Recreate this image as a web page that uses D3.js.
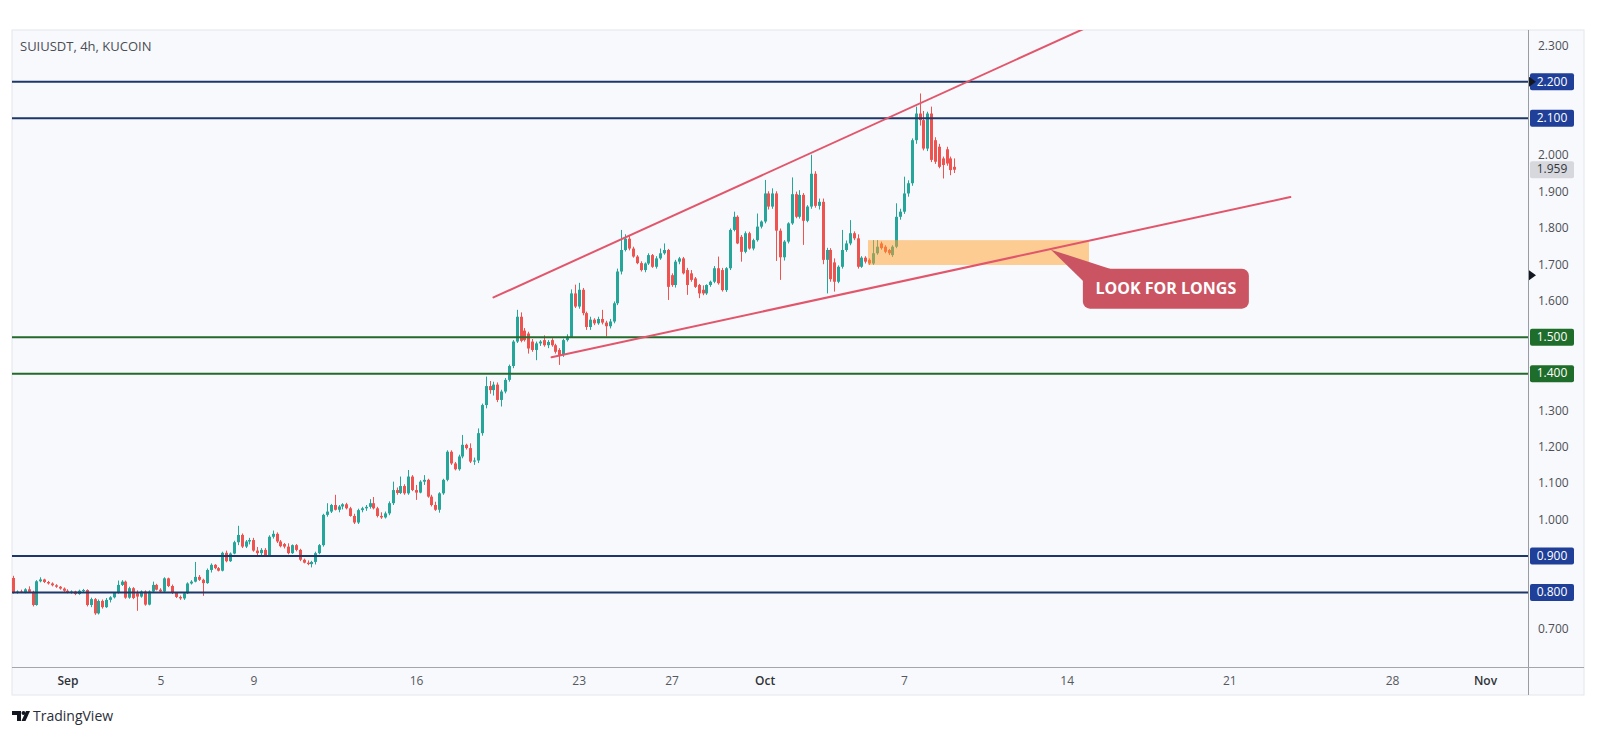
<!DOCTYPE html>
<html><head><meta charset="utf-8">
<script src="https://cdn.jsdelivr.net/npm/d3@7"></script>
<style>
html,body{margin:0;padding:0;background:#fff;}
svg{display:block;font-family:"Open Sans","Liberation Sans",sans-serif;}
</style></head><body>
<svg id="chart" width="1597" height="736"></svg>
<script>
// ---------------- DATA ----------------
const title = "SUIUSDT, 4h, KUCOIN";
const firstBar = "2024-08-29T16:00:00Z";   // open time of first visible 4h bar
const barHours = 4;
// [open, high, low, close] per 4h bar
const ohlc = [
[.840,.846,.797,.800],[.800,.806,.797,.803],[.803,.808,.799,.800],[.800,.812,.798,.809],[.809,.817,.800,.802],
[.802,.805,.762,.766],[.766,.834,.764,.831],[.831,.842,.828,.836],[.836,.838,.826,.829],[.829,.832,.822,.825],
[.825,.828,.817,.820],[.820,.823,.813,.816],[.816,.818,.808,.811],[.811,.814,.802,.805],[.805,.809,.798,.801],
[.801,.806,.797,.803],[.803,.805,.793,.796],[.796,.808,.794,.805],[.805,.810,.800,.807],[.807,.809,.762,.766],
[.766,.786,.760,.782],[.782,.785,.739,.743],[.743,.781,.740,.777],[.777,.781,.756,.760],[.760,.785,.758,.780],
[.780,.790,.773,.787],[.787,.801,.784,.799],[.799,.833,.797,.821],[.821,.834,.818,.830],[.830,.833,.783,.786],
[.786,.816,.783,.812],[.812,.815,.782,.785],[.798,.806,.750,.789],[.789,.806,.786,.803],[.803,.806,.764,.767],
[.767,.806,.765,.803],[.803,.830,.800,.821],[.821,.824,.806,.808],[.808,.812,.800,.803],[.803,.842,.801,.839],
[.839,.841,.815,.818],[.818,.822,.796,.799],[.799,.801,.785,.788],[.788,.792,.780,.784],[.784,.800,.780,.798],
[.798,.828,.796,.825],[.825,.834,.822,.830],[.830,.884,.828,.843],[.843,.848,.832,.835],[.835,.838,.791,.826],
[.826,.866,.824,.862],[.862,.880,.855,.876],[.876,.878,.864,.867],[.867,.870,.858,.860],[.860,.912,.858,.909],
[.909,.915,.883,.886],[.886,.910,.884,.907],[.907,.942,.905,.938],[.938,.983,.930,.958],[.958,.962,.922,.926],
[.926,.944,.922,.940],[.940,.950,.932,.944],[.944,.950,.912,.915],[.915,.925,.903,.908],[.908,.922,.902,.917],
[.917,.922,.899,.901],[.901,.957,.898,.953],[.953,.970,.948,.961],[.961,.965,.936,.940],[.940,.944,.924,.927],
[.933,.936,.921,.926],[.926,.935,.905,.908],[.908,.932,.906,.930],[.930,.933,.913,.917],[.917,.920,.886,.890],
[.890,.893,.880,.882],[.882,.888,.875,.878],[.878,.887,.869,.884],[.884,.912,.877,.908],[.908,.933,.905,.930],
[.930,1.016,.926,1.013],[1.013,1.045,1.008,1.022],[1.022,1.043,1.018,1.040],[1.040,1.068,1.025,1.027],[1.027,1.040,1.020,1.036],
[1.036,1.045,1.028,1.042],[1.042,1.046,1.028,1.031],[1.031,1.035,1.008,1.010],[1.010,1.016,.988,.992],[.992,1.030,.988,1.026],
[1.026,1.035,1.020,1.031],[1.031,1.040,1.024,1.035],[1.035,1.056,1.030,1.045],[1.045,1.062,1.028,1.031],[1.031,1.035,1.006,1.010],
[1.010,1.020,1.002,1.006],[1.006,1.022,1.003,1.017],[1.017,1.050,1.012,1.045],[1.045,1.104,1.040,1.081],[1.081,1.088,1.068,1.073],
[1.073,1.118,1.070,1.092],[1.092,1.097,1.068,1.072],[1.072,1.136,1.068,1.118],[1.118,1.122,1.078,1.081],[1.081,1.095,1.054,1.074],
[1.074,1.108,1.072,1.104],[1.104,1.122,1.095,1.109],[1.109,1.112,1.060,1.063],[1.063,1.068,1.036,1.040],[1.040,1.049,1.024,1.027],
[1.027,1.075,1.019,1.072],[1.072,1.112,1.068,1.109],[1.109,1.190,1.105,1.186],[1.186,1.190,1.150,1.154],[1.154,1.158,1.135,1.138],
[1.138,1.178,1.134,1.173],[1.173,1.232,1.168,1.205],[1.205,1.208,1.192,1.196],[1.196,1.209,1.155,1.159],[1.159,1.170,1.150,1.162],
[1.162,1.250,1.155,1.237],[1.237,1.318,1.230,1.314],[1.314,1.392,1.305,1.366],[1.366,1.380,1.345,1.355],[1.355,1.378,1.340,1.370],
[1.370,1.376,1.322,1.328],[1.328,1.356,1.310,1.351],[1.351,1.388,1.346,1.383],[1.383,1.425,1.378,1.421],[1.421,1.492,1.415,1.488],
[1.488,1.575,1.484,1.556],[1.556,1.568,1.486,1.490],[1.518,1.525,1.488,1.492],[1.510,1.515,1.455,1.469],[1.488,1.495,1.460,1.465],
[1.465,1.488,1.437,1.483],[1.483,1.492,1.476,1.488],[1.492,1.505,1.474,1.478],[1.478,1.492,1.470,1.487],[1.492,1.497,1.474,1.478],
[1.478,1.482,1.455,1.460],[1.465,1.470,1.424,1.451],[1.451,1.496,1.446,1.492],[1.492,1.508,1.488,1.501],[1.501,1.631,1.498,1.620],
[1.620,1.644,1.580,1.584],[1.584,1.649,1.578,1.630],[1.630,1.635,1.560,1.566],[1.566,1.570,1.520,1.528],[1.528,1.556,1.520,1.548],
[1.548,1.552,1.533,1.538],[1.538,1.556,1.534,1.550],[1.550,1.575,1.535,1.540],[1.540,1.545,1.502,1.530],[1.530,1.550,1.524,1.543],
[1.543,1.598,1.538,1.593],[1.593,1.688,1.588,1.680],[1.680,1.794,1.672,1.739],[1.739,1.782,1.735,1.770],[1.770,1.778,1.738,1.743],
[1.743,1.748,1.718,1.721],[1.721,1.725,1.700,1.703],[1.703,1.708,1.680,1.684],[1.684,1.705,1.678,1.702],[1.702,1.730,1.698,1.725],
[1.725,1.728,1.690,1.693],[1.693,1.722,1.688,1.716],[1.716,1.743,1.712,1.730],[1.730,1.757,1.726,1.739],[1.739,1.742,1.602,1.638],
[1.670,1.675,1.638,1.643],[1.643,1.712,1.636,1.707],[1.707,1.720,1.700,1.716],[1.716,1.720,1.672,1.675],[1.684,1.690,1.616,1.643],
[1.675,1.684,1.652,1.657],[1.661,1.665,1.635,1.638],[1.643,1.646,1.607,1.620],[1.630,1.642,1.615,1.620],[1.620,1.645,1.616,1.643],
[1.643,1.655,1.638,1.652],[1.652,1.695,1.648,1.689],[1.689,1.721,1.644,1.648],[1.684,1.690,1.625,1.629],[1.629,1.692,1.624,1.689],
[1.689,1.798,1.684,1.794],[1.794,1.844,1.790,1.830],[1.830,1.834,1.755,1.757],[1.775,1.780,1.707,1.734],[1.734,1.790,1.730,1.785],
[1.785,1.789,1.740,1.743],[1.743,1.770,1.738,1.766],[1.766,1.839,1.762,1.803],[1.803,1.820,1.798,1.817],[1.817,1.931,1.812,1.894],
[1.894,1.900,1.850,1.858],[1.858,1.908,1.852,1.894],[1.894,1.900,1.709,1.792],[1.792,1.798,1.657,1.719],[1.719,1.766,1.710,1.762],
[1.762,1.815,1.757,1.812],[1.812,1.938,1.808,1.892],[1.892,1.899,1.826,1.830],[1.830,1.903,1.825,1.890],[1.890,1.895,1.753,1.819],
[1.819,1.862,1.815,1.858],[1.858,2.000,1.852,1.948],[1.948,1.955,1.855,1.860],[1.860,1.880,1.850,1.871],[1.871,1.880,1.700,1.712],
[1.712,1.745,1.620,1.739],[1.739,1.744,1.652,1.659],[1.705,1.716,1.625,1.652],[1.652,1.697,1.648,1.693],[1.693,1.794,1.688,1.739],
[1.739,1.765,1.734,1.757],[1.757,1.821,1.752,1.785],[1.785,1.790,1.766,1.771],[1.771,1.782,1.688,1.693],[1.693,1.722,1.690,1.718],
[1.718,1.722,1.702,1.707],[1.712,1.716,1.698,1.702],[1.702,1.766,1.698,1.730],[1.730,1.766,1.726,1.748],[1.757,1.762,1.740,1.744],
[1.748,1.752,1.730,1.734],[1.739,1.742,1.725,1.730],[1.725,1.752,1.720,1.748],[1.748,1.867,1.744,1.830],[1.830,1.852,1.822,1.844],
[1.844,1.940,1.838,1.894],[1.894,1.930,1.885,1.922],[1.922,2.045,1.915,2.040],[2.040,2.132,2.030,2.113],[2.113,2.168,2.080,2.095],
[2.095,2.120,2.012,2.017],[2.017,2.118,2.010,2.113],[2.113,2.132,1.980,1.986],[2.040,2.048,1.975,1.981],[2.022,2.030,1.963,1.967],
[1.990,1.995,1.935,1.972],[2.015,2.022,1.970,1.976],[1.990,1.995,1.944,1.958],[1.967,1.990,1.950,1.959]
];
const priceTicks = [0.7,0.8,0.9,1.0,1.1,1.2,1.3,1.4,1.5,1.6,1.7,1.8,1.9,2.0,2.1,2.2,2.3];
const dateTicks = ["2024-09-01","2024-09-05","2024-09-09","2024-09-16","2024-09-23","2024-09-27",
                   "2024-10-01","2024-10-07","2024-10-14","2024-10-21","2024-10-28","2024-11-01"];
const dateTickLabels = ["Sep","5","9","16","23","27","Oct","7","14","21","28","Nov"];
const monthTickLabels = ["Sep","Oct","Nov"];
const blueLevels = [2.2, 2.1, 0.9, 0.8];
const greenLevels = [1.5, 1.4];
const lastPrice = 1.959;
const markerPrice = 1.670;
const upperTrend = [["2024-09-19T08:00:00Z", 1.609], ["2024-10-14T20:00:00Z", 2.348]];
const lowerTrend = [["2024-09-21T20:00:00Z", 1.445], ["2024-10-23T15:00:00Z", 1.884]];
const zoneTimes = ["2024-10-05T10:48:00Z", "2024-10-14T23:00:00Z"];
const zonePrices = [1.698, 1.766];
const calloutText = "LOOK FOR LONGS";
const calloutTip = ["2024-10-13T07:40:00Z", 1.740];

// ---------------- LAYOUT ----------------
const plot = {left:12, right:1528, top:30, bottom:667};
const panel = {left:12, right:1584, top:30, bottom:695};
const svg = d3.select("#chart");

const x = d3.scaleUtc()
  .domain([new Date("2024-09-01T00:00:00Z"), new Date("2024-11-01T00:00:00Z")])
  .range([67.4, 1485]);
const y = d3.scaleLinear().domain([0.596, 2.342]).range([plot.bottom, plot.top]);

const t0 = new Date(firstBar).getTime();
const bars = ohlc.map((r, i) => ({t: new Date(t0 + i*barHours*3600e3), o:r[0], h:r[1], l:r[2], c:r[3]}));

// background
svg.append("rect").attr("width",1597).attr("height",736).attr("fill","#ffffff");
svg.append("rect").attr("x",panel.left).attr("y",panel.top)
  .attr("width",panel.right-panel.left).attr("height",panel.bottom-panel.top)
  .attr("fill","#f8f9fc").attr("stroke","#e4e6ec").attr("stroke-width",1);

svg.append("defs").append("clipPath").attr("id","plotclip")
  .append("rect").attr("x",plot.left).attr("y",plot.top)
  .attr("width",plot.right-plot.left).attr("height",plot.bottom-plot.top);

const pg = svg.append("g").attr("clip-path","url(#plotclip)");

// candles
const up = "#26a69a", dn = "#ef5350";
const cg = pg.append("g");
cg.selectAll("line.wick").data(bars).join("line").attr("class","wick")
  .attr("x1", d => Math.round(x(d.t)) + 0.5).attr("x2", d => Math.round(x(d.t)) + 0.5)
  .attr("y1", d => y(d.h)).attr("y2", d => y(d.l))
  .attr("stroke", d => d.c >= d.o ? up : dn).attr("stroke-width",1);
cg.selectAll("rect.body").data(bars).join("rect").attr("class","body")
  .attr("x", d => Math.round(x(d.t)) - 1).attr("width", 3)
  .attr("y", d => y(Math.max(d.o,d.c)))
  .attr("height", d => Math.max(1, Math.abs(y(d.o)-y(d.c))))
  .attr("fill", d => d.c >= d.o ? up : dn);

// horizontal levels
const lg = pg.append("g");
lg.selectAll("line.blue").data(blueLevels).join("line")
  .attr("x1",plot.left).attr("x2",plot.right).attr("y1",d=>y(d)).attr("y2",d=>y(d))
  .attr("stroke","#1c3768").attr("stroke-width",2);
lg.selectAll("line.green").data(greenLevels).join("line")
  .attr("x1",plot.left).attr("x2",plot.right).attr("y1",d=>y(d)).attr("y2",d=>y(d))
  .attr("stroke","#236a2b").attr("stroke-width",2);

// zone
pg.append("rect")
  .attr("x", x(new Date(zoneTimes[0]))).attr("width", x(new Date(zoneTimes[1])) - x(new Date(zoneTimes[0])))
  .attr("y", y(zonePrices[1])).attr("height", y(zonePrices[0]) - y(zonePrices[1]))
  .attr("fill","rgba(255,160,40,0.5)");

// trend lines
[upperTrend, lowerTrend].forEach(tl => {
  pg.append("line")
    .attr("x1", x(new Date(tl[0][0]))).attr("y1", y(tl[0][1]))
    .attr("x2", x(new Date(tl[1][0]))).attr("y2", y(tl[1][1]))
    .attr("stroke","#e2566c").attr("stroke-width",2).attr("stroke-linecap","round");
});

// callout
const tipX = x(new Date(calloutTip[0])), tipY = y(calloutTip[1]);
const bx = tipX + 32, by = tipY + 19, bw = 166, bh = 40;
svg.append("path")
  .attr("d", `M${tipX},${tipY} L${bx+2},${by+14} L${bx+30},${by+1} Z`)
  .attr("fill","#cb5462");
svg.append("rect").attr("x",bx).attr("y",by).attr("width",bw).attr("height",bh)
  .attr("rx",7).attr("fill","#cb5462");
svg.append("text").attr("x",bx+bw/2).attr("y",by+bh/2+1)
  .attr("text-anchor","middle").attr("dominant-baseline","middle")
  .attr("fill","#ffffff").attr("font-size",16).attr("font-weight",700)
  .text(calloutText);

// title
svg.append("text").attr("x",20).attr("y",51).attr("font-size",13).attr("fill","#4a4d55").text(title);

// price axis
svg.append("line").attr("x1",plot.right+0.5).attr("x2",plot.right+0.5)
  .attr("y1",panel.top).attr("y2",panel.bottom).attr("stroke","#9a9ca3").attr("stroke-width",1);
const ya = svg.append("g").attr("transform",`translate(${plot.right},0)`)
  .call(d3.axisRight(y).tickValues(priceTicks).tickFormat(d3.format(".3f")).tickSize(0).tickPadding(10));
ya.select(".domain").remove();
ya.selectAll("text").attr("font-size",12).attr("fill","#4c4f57")
  .attr("font-family","'Open Sans','Liberation Sans',sans-serif");

// level labels
function levelLabel(v, fill, txtColor) {
  const g = svg.append("g");
  g.append("rect").attr("x",plot.right+2).attr("y",y(v)-8.5).attr("width",44).attr("height",17)
    .attr("rx",2).attr("fill",fill);
  g.append("text").attr("x",plot.right+24).attr("y",y(v)+0.5)
    .attr("text-anchor","middle").attr("dominant-baseline","middle")
    .attr("font-size",12).attr("fill",txtColor).text(d3.format(".3f")(v));
}
blueLevels.forEach(v => levelLabel(v, "#1f3f98", "#ffffff"));
greenLevels.forEach(v => levelLabel(v, "#1f6d2a", "#ffffff"));
levelLabel(lastPrice, "#d6d8de", "#33363d");

// axis markers
function marker(v) {
  const yy = y(v);
  svg.append("path").attr("d", `M${plot.right+1},${yy-5} L${plot.right+8},${yy} L${plot.right+1},${yy+5} Z`).attr("fill","#131722");
}
marker(blueLevels[0]);
marker(markerPrice);

// time axis
svg.append("line").attr("x1",panel.left).attr("x2",panel.right)
  .attr("y1",plot.bottom+0.5).attr("y2",plot.bottom+0.5).attr("stroke","#a3a6ad").attr("stroke-width",1);
const xa = svg.append("g").attr("transform",`translate(0,${plot.bottom})`)
  .call(d3.axisBottom(x).tickValues(dateTicks.map(d => new Date(d + "T00:00:00Z")))
        .tickFormat((d,i) => dateTickLabels[i]).tickSize(0).tickPadding(9));
xa.select(".domain").remove();
xa.selectAll("text").attr("font-size",12)
  .attr("font-family","'Open Sans','Liberation Sans',sans-serif")
  .attr("fill", (d,i) => monthTickLabels.includes(dateTickLabels[i]) ? "#2f3238" : "#55585f")
  .attr("font-weight", (d,i) => monthTickLabels.includes(dateTickLabels[i]) ? 600 : 400);

// TradingView logo
const logo = svg.append("g").attr("fill","#131722");
logo.append("path").attr("d","M12,711 h9 v10 h-4 v-6 h-5 Z");
logo.append("circle").attr("cx",23.5).attr("cy",713).attr("r",2);
logo.append("path").attr("d","M26,711 h4 l-4.5,10 h-4 Z");
svg.append("text").attr("x",33).attr("y",721).attr("font-size",14).attr("fill","#2a2e39").text("TradingView");
</script>
</body></html>
